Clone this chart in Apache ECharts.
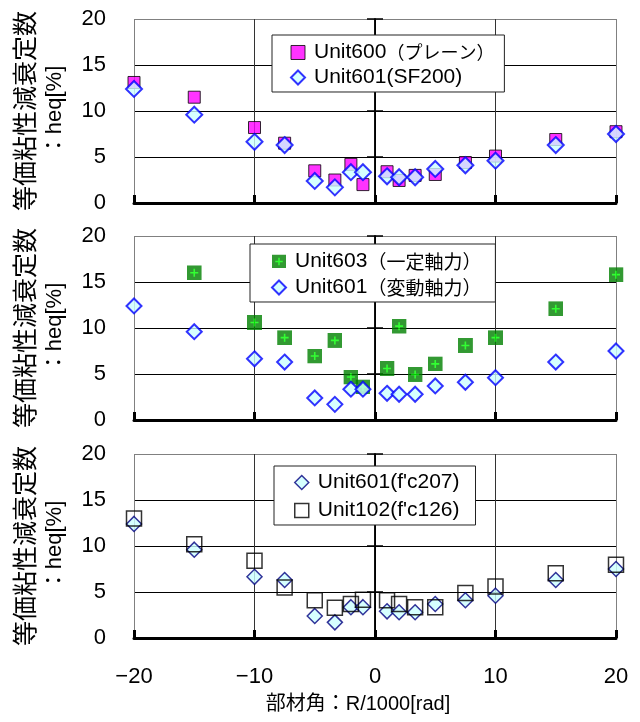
<!DOCTYPE html>
<html><head><meta charset="utf-8">
<script src="https://cdn.jsdelivr.net/npm/echarts@6/dist/echarts.min.js"></script>
<style>html,body{margin:0;padding:0;background:#fff}#c{width:640px;height:722px}</style>
</head><body><div id="c"></div>
<script>
// ---- data ----
const angles = [-20, -15, -10, -7.5, -5, -3.33, -2, -1, 1, 2, 3.33, 5, 7.5, 10, 15, 20];
const unit600 = [13.1, 11.5, 8.2, 6.5, 3.5, 2.5, 4.2, 2.0, 3.4, 2.45, 3.0, 3.1, 4.4, 5.1, 6.9, 7.75];
const unit601 = [12.4, 9.6, 6.65, 6.3, 2.4, 1.7, 3.35, 3.35, 2.9, 2.8, 2.8, 3.7, 4.1, 4.6, 6.3, 7.5];
const angles603 = [-15, -10, -7.5, -5, -3.33, -2, -1, 1, 2, 3.33, 5, 7.5, 10, 15, 20];
const unit603 = [16.0, 10.6, 8.95, 6.95, 8.65, 4.67, 3.6, 5.6, 10.2, 4.95, 6.1, 8.1, 8.95, 12.1, 15.8];
const unit102 = [13.0, 10.2, 8.4, 5.5, 4.1, 3.3, 3.7, 4.15, 4.1, 3.7, 3.35, 3.35, 4.9, 5.6, 7.05, 7.95];
const xTickLabels = [-20, -10, 0, 10, 20];
const yTickLabels = [0, 5, 10, 15, 20];
const names = [
  ['Unit600（プレーン）', 'Unit601(SF200)'],
  ['Unit603（一定軸力）', 'Unit601（変動軸力）'],
  ["Unit601(f'c207)", "Unit102(f'c126)"]
];
const yTitle1 = '等価粘性減衰定数';
const yTitle2 = '：heq[%]';
const xTitle = '部材角：R/1000[rad]';

// ---- helpers ----
const pairs = (xs, ys) => xs.map((x, i) => [x, ys[i]]);
const LATIN = '"Liberation Sans", Arial, "Noto Sans CJK JP", sans-serif';
const CJK = '"Noto Sans CJK JP", "Liberation Sans", sans-serif';
const plusSvg = "<svg xmlns='http://www.w3.org/2000/svg' width='30' height='30' viewBox='0 0 15 15'><rect width='15' height='15' fill='#008000'/><path d='M7.5 3.5V11.5M3.5 7.5H11.5' stroke='#00ff00' stroke-width='1.6'/></svg>";
const plusSym = 'image://data:image/svg+xml;charset=utf-8,' + encodeURIComponent(plusSvg);

const tops = [19, 236, 454];
const H = 184;
const grids = [], xAxes = [], yAxes = [];
tops.forEach((t, i) => {
  grids.push({ left: 134, right: 24, top: t, height: H, outerBoundsMode: 'none', containLabel: false });
  xAxes.push({
    gridIndex: i, type: 'value', min: -20, max: 20, interval: 10,
    axisLine: { onZero: false, lineStyle: { color: '#000', width: 3 } },
    axisTick: { show: true, inside: true, length: 8, lineStyle: { color: '#000', width: 3 } },
    axisLabel: { show: i === 2, margin: 28, fontSize: 22, color: '#000', fontFamily: LATIN,
      formatter: v => (v < 0 ? '\u2212' + Math.abs(v) : String(v)) },
    splitLine: { show: true, lineStyle: { color: ['#808080', '#333333', '#000000', '#333333', '#808080'], width: 1, type: 'solid' } }
  });
  yAxes.push({
    gridIndex: i, type: 'value', min: 0, max: 20, interval: 5, position: 'left',
    axisLine: { show: false, onZero: false },
    axisTick: { show: false },
    axisLabel: { show: true, margin: 28, fontSize: 22, color: '#000', fontFamily: LATIN },
    splitLine: { show: true, lineStyle: { color: ['#000000', '#000000', '#000000', '#000000', '#808080'], width: 1, type: 'solid' } }
  });
  yAxes.push({
    gridIndex: i, type: 'value', min: 0, max: 20, interval: 5, position: 'left',
    axisLine: { show: true, onZero: true, onZeroAxisIndex: i, lineStyle: { color: '#000', width: 1.5 } },
    axisTick: { show: true, length: 8, lineStyle: { color: '#000', width: 1.5 } },
    axisLabel: { show: false }, splitLine: { show: false }
  });
  yAxes.push({
    gridIndex: i, type: 'value', min: 0, max: 20, interval: 5, position: 'right',
    axisLine: { show: true, onZero: true, onZeroAxisIndex: i, lineStyle: { color: '#000', width: 1.5 } },
    axisTick: { show: true, length: 8, lineStyle: { color: '#000', width: 1.5 } },
    axisLabel: { show: false }, splitLine: { show: false }
  });
});

const sUnit600 = { color: '#ff00ff', borderColor: '#000', borderWidth: 1 };
const sDiaBlue = { color: '#ccffff', borderColor: '#0000ff', borderWidth: 2 };
const sDiaNavy = { color: '#ccffff', borderColor: '#000080', borderWidth: 1.5 };
const sHollow = { color: 'rgba(255,255,255,0)', borderColor: '#000', borderWidth: 1.5 };

const series = [
  { name: names[0][0], type: 'scatter', xAxisIndex: 0, yAxisIndex: 0, symbol: 'rect', symbolSize: 12, itemStyle: sUnit600, data: pairs(angles, unit600) },
  { name: names[0][1], type: 'scatter', xAxisIndex: 0, yAxisIndex: 0, symbol: 'diamond', symbolSize: 16, itemStyle: sDiaBlue, data: pairs(angles, unit601) },
  { name: names[1][0], type: 'scatter', xAxisIndex: 1, yAxisIndex: 3, symbol: plusSym, symbolSize: 15, data: pairs(angles603, unit603) },
  { name: names[1][1], type: 'scatter', xAxisIndex: 1, yAxisIndex: 3, symbol: 'diamond', symbolSize: 15, itemStyle: sDiaBlue, data: pairs(angles, unit601) },
  { name: names[2][0], type: 'scatter', xAxisIndex: 2, yAxisIndex: 6, symbol: 'diamond', symbolSize: 15, itemStyle: sDiaNavy, data: pairs(angles, unit601) },
  { name: names[2][1], type: 'scatter', xAxisIndex: 2, yAxisIndex: 6, symbol: 'rect', symbolSize: 15, itemStyle: sHollow, data: pairs(angles, unit102) }
];

function fmt(name) {
  const m = name.match(/^([^（]*)(（.*）)?$/);
  return m && m[2] ? '{a|' + m[1] + '}{b|' + m[2] + '}' : '{a|' + name + '}';
}
function mkLegend(i, left, top, pad, gap, cjkSize, icons) {
  return {
    show: true, orient: 'vertical', left: left, top: top, padding: pad, itemGap: gap,
    itemWidth: 14, itemHeight: 14, backgroundColor: '#fff', borderColor: '#222', borderWidth: 1,
    selectedMode: false,
    data: names[i].map((n, k) => Object.assign({ name: n }, icons[k])),
    formatter: fmt,
    textStyle: { color: '#000', rich: {
      a: { fontSize: 21, fontFamily: LATIN, lineHeight: 22, color: '#000', padding: [0, 0, 0, 4] },
      b: { fontSize: cjkSize, fontFamily: CJK, lineHeight: 22, color: '#000' }
    } }
  };
}
const legends = [
  mkLegend(0, 272, 35, [7, 10, 4, 18], 4, 18, [{ icon: 'rect', itemStyle: sUnit600 }, { icon: 'diamond', itemStyle: sDiaBlue }]),
  mkLegend(1, 250, 244, [7, 14, 4, 21], 5, 19, [{ icon: plusSym }, { icon: 'diamond', itemStyle: sDiaBlue }]),
  mkLegend(2, 274, 466, [6, 16, 4, 20], 7, 19, [{ icon: 'diamond', itemStyle: sDiaNavy }, { icon: 'rect', itemStyle: sHollow }])
];

const graphics = [];
tops.forEach(t => {
  const cy = t + H / 2;
  graphics.push({ type: 'text', x: 24, y: cy, rotation: Math.PI / 2, z: 10,
    style: { text: yTitle1, fontSize: 25, fontFamily: CJK, fill: '#000', align: 'center', verticalAlign: 'middle' } });
  graphics.push({ type: 'text', x: 55, y: cy, rotation: Math.PI / 2, z: 10,
    style: { text: yTitle2, fontSize: 22, fontFamily: LATIN, fill: '#000', align: 'center', verticalAlign: 'middle' } });
});
graphics.push({ type: 'text', x: 358, y: 704, z: 10,
  style: { text: xTitle, fontSize: 20, fontFamily: LATIN, fill: '#000', align: 'center', verticalAlign: 'middle' } });

const chart = echarts.init(document.getElementById('c'), null, { renderer: 'canvas' });
chart.setOption({
  animation: false,
  backgroundColor: '#fff',
  grid: grids, xAxis: xAxes, yAxis: yAxes,
  legend: legends,
  graphic: graphics,
  series: series
});
</script></body></html>
